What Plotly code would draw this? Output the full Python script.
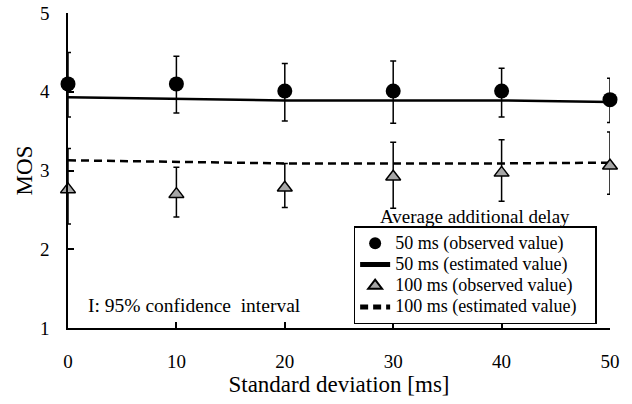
import plotly.graph_objects as go

x = [0, 10, 20, 30, 40, 50]
obs50 = [4.10, 4.10, 4.01, 4.01, 4.01, 3.90]
obs50_hi = [4.50, 4.45, 4.36, 4.39, 4.30, 4.17]
obs50_lo = [3.68, 3.73, 3.63, 3.60, 3.68, 3.61]
est50 = [3.93, 3.91, 3.89, 3.89, 3.89, 3.87]
obs100 = [2.76, 2.70, 2.78, 2.92, 2.97, 3.06]
obs100_hi = [3.28, 3.04, 3.09, 3.36, 3.39, 3.49]
obs100_lo = [2.32, 2.41, 2.53, 2.52, 2.61, 2.70]
est100 = [3.13, 3.11, 3.09, 3.09, 3.09, 3.10]
names = ["50 ms (observed value)", "50 ms (estimated value)",
         "100 ms (observed value)", "100 ms (estimated value)"]

FONT = "Times New Roman"

def lg(name):
    # trailing invisible padding widens the legend box like the reference
    return ("<span style='font-size:18px'>" + name +
            "&nbsp;&nbsp;<span style='color:white'>.</span></span>")

def err(v, hi, lo):
    return dict(type="data", symmetric=False,
                array=[h - a for a, h in zip(v, hi)],
                arrayminus=[a - l for a, l in zip(v, lo)],
                color="black", thickness=1.5, width=3)

fig = go.Figure()
fig.add_trace(go.Scatter(x=x, y=est50, mode="lines", name=lg(names[1]),
                         line=dict(color="black", width=2.5), cliponaxis=False, legendrank=2))
fig.add_trace(go.Scatter(x=x, y=est100, mode="lines", name=lg(names[3]),
                         line=dict(color="black", width=2.5, dash="8px,5px"), cliponaxis=False, legendrank=4))
fig.add_trace(go.Scatter(x=x, y=obs50, mode="markers", name=lg(names[0]),
                         marker=dict(symbol="circle", size=15, color="black"),
                         error_y=err(obs50, obs50_hi, obs50_lo), cliponaxis=False, legendrank=1))
fig.add_trace(go.Scatter(x=x, y=obs100, mode="markers", name=lg(names[2]),
                         marker=dict(symbol="triangle-up", size=13, color="#a6a6a6",
                                     line=dict(color="black", width=1.5)),
                         error_y=err(obs100, obs100_hi, obs100_lo), cliponaxis=False, legendrank=3))

fig.update_layout(
    width=632, height=404,
    margin=dict(l=68, r=22, t=13, b=76),
    paper_bgcolor="white", plot_bgcolor="white",
    font=dict(family=FONT, size=19, color="black"),
    showlegend=True,
    legend=dict(x=0.527, y=0.323, xanchor="left", yanchor="top",
                bordercolor="black", borderwidth=1.5, bgcolor="white",
                font=dict(size=14), itemsizing="constant", tracegroupgap=0, itemwidth=30),
    annotations=[
        dict(text="Average additional delay", xref="paper", yref="paper",
             x=(475 - 68.3) / 541.7, y=(327.7 - 216.7) / 315, showarrow=False,
             xanchor="center", yanchor="middle", font=dict(size=19)),
        dict(text="I: 95% confidence  interval", xref="paper", yref="paper",
             x=(86 - 68.3) / 541.7, y=(327.7 - 305) / 315, showarrow=False,
             xanchor="left", yanchor="middle", font=dict(size=19.5)),
    ],
)
fig.update_xaxes(range=[0, 50], dtick=10, showline=True, linecolor="black", linewidth=1.5,
                 ticks="inside", ticklen=6, tickwidth=1.5, tickcolor="black",
                 showgrid=False, zeroline=False, ticklabelstandoff=15, automargin=False,
                 title=dict(text="Standard deviation [ms]", standoff=3))
fig.update_yaxes(range=[1, 5], dtick=1, showline=True, linecolor="black", linewidth=1.5,
                 ticks="inside", ticklen=6, tickwidth=1.5, tickcolor="black",
                 showgrid=False, zeroline=False, ticklabelstandoff=13, automargin=False,
                 title=dict(text="MOS", standoff=1))

fig.write_html("out.html", config={"displayModeBar": False},
               post_script="document.body.style.margin='0';document.body.style.overflow='hidden';")
